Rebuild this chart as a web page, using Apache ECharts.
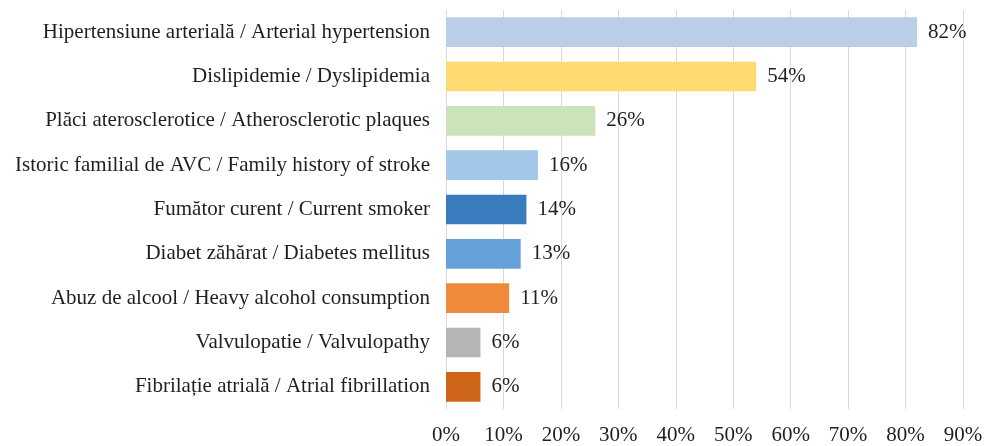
<!DOCTYPE html>
<html lang="en">
<head>
    <meta charset="UTF-8">
    <title>Factori de risc</title>
    <script type="text/javascript" src="https://cdn.jsdelivr.net/npm/echarts@6/dist/echarts.min.js"></script>
    <style>
        html, body { margin: 0; padding: 0; background: #fff; }
    </style>
</head>
<body>
<div id="main" style="width: 986px;height:446px;"></div>
<script type="text/javascript">
    // categorii, de sus in jos
    var categories = [
        'Hipertensiune arterială / Arterial hypertension',
        'Dislipidemie / Dyslipidemia',
        'Plăci aterosclerotice / Atherosclerotic plaques',
        'Istoric familial de AVC / Family history of stroke',
        'Fumător curent / Current smoker',
        'Diabet zăhărat / Diabetes mellitus',
        'Abuz de alcool / Heavy alcohol consumption',
        'Valvulopatie / Valvulopathy',
        'Fibrilație atrială / Atrial fibrillation'
    ];
    var percentValues = [82, 54, 26, 16, 14, 13, 11, 6, 6];
    var barColors = ['#BCCDEA', '#FFDA70', '#CAE3BB', '#A3C7E8', '#3A7DBE', '#65A2DA', '#F08A3A', '#B5B5B3', '#CE6519'];

    var myChart = echarts.init(document.getElementById('main'));

    var seriesData = [];
    for (var i = 0; i < percentValues.length; i++) {
        seriesData.push({value: percentValues[i], itemStyle: {color: barColors[i]}});
    }

    var textFont = {fontFamily: 'Liberation Serif', fontSize: 21, color: '#1F1F1F'};

    var option = {
        animation: false,
        grid: {left: 446, right: 23, top: 10, bottom: 32, containLabel: false},
        xAxis: {
            type: 'value',
            min: 0,
            max: 90,
            interval: 10,
            axisLine: {show: false},
            axisTick: {show: false},
            splitLine: {lineStyle: {color: '#D9D9D9', width: 1}},
            axisLabel: {
                formatter: '{value}%',
                margin: 16,
                fontFamily: textFont.fontFamily,
                fontSize: textFont.fontSize,
                color: textFont.color
            }
        },
        yAxis: {
            type: 'category',
            inverse: true,
            data: categories,
            axisLine: {lineStyle: {color: '#D9D9D9'}},
            axisTick: {show: false},
            axisLabel: {
                margin: 16,
                fontFamily: textFont.fontFamily,
                fontSize: textFont.fontSize,
                color: textFont.color
            }
        },
        series: [{
            type: 'bar',
            data: seriesData,
            barWidth: '67%',
            label: {
                show: true,
                position: 'right',
                distance: 11,
                formatter: '{c}%',
                fontFamily: textFont.fontFamily,
                fontSize: textFont.fontSize,
                color: textFont.color
            }
        }]
    };
    myChart.setOption(option);
</script>
</body>
</html>
